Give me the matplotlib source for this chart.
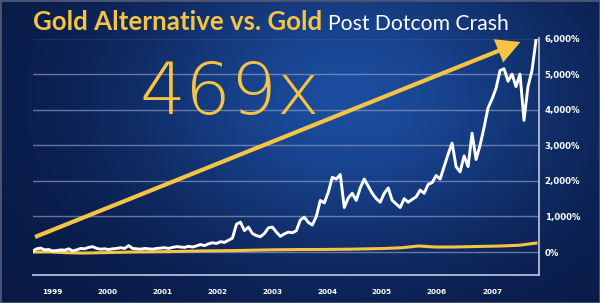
import numpy as np
import matplotlib
matplotlib.use("Agg")
import matplotlib.pyplot as plt
from matplotlib.patches import FancyArrowPatch, Rectangle
from matplotlib import font_manager as fm

# ---------------- data ----------------
title_main = "Gold Alternative vs. Gold"
title_sub = "Post Dotcom Crash"
big_label = "469x"
year_labels = ["1999", "2000", "2001", "2002", "2003", "2004", "2005", "2006", "2007"]
year_ticks = [1999, 2000, 2001, 2002, 2003, 2004, 2005, 2006, 2007]
y_ticks = [0, 1000, 2000, 3000, 4000, 5000, 6000]
y_tick_labels = ["0%", "1,000%", "2,000%", "3,000%", "4,000%", "5,000%", "6,000%"]

start_year = 1998.65
end_year = 2007.80

# Gold alternative cumulative return (%), evenly spaced in time
alt_values = [30, 90, 110, 60, 70, 30, 40, 60, 50, 90,
              30, 60, 100, 90, 130, 150, 100, 80, 90, 70,
              90, 100, 120, 100, 180, 100, 90, 80, 100, 90,
              80, 100, 110, 120, 100, 130, 150, 140, 130, 160,
              140, 170, 210, 180, 230, 260, 240, 290, 270, 330,
              390, 780, 840, 600, 700, 520, 460, 430, 520, 680,
              700, 560, 440, 510, 560, 540, 600, 900, 980, 830,
              760, 1000, 1450, 1380, 1680, 2100, 2050, 2180, 1250, 1520,
              1650, 1450, 1800, 2050, 1850, 1650, 1500, 1400, 1650, 1800,
              1450, 1350, 1250, 1500, 1400, 1480, 1550, 1740, 1650, 1900,
              1950, 2150, 2050, 2400, 2750, 3060, 2400, 2250, 2700, 2400,
              3340, 2600, 3000, 3500, 4050, 4300, 4600, 5100, 5150, 4800,
              5000, 4650, 5000, 3700, 4650, 5100, 5950]

# Gold cumulative return (%), evenly spaced in time
gold_values = [0, 5, -20, -30, -20, -10, 0, 5, 10, 20,
               30, 35, 40, 50, 60, 65, 70, 70, 75, 80,
               90, 100, 120, 170, 140, 140, 150, 160, 170, 190, 250]

alt_dates = np.linspace(start_year, end_year, len(alt_values))
gold_dates = np.linspace(start_year, end_year, len(gold_values))

# ---------------- style ----------------
YELLOW = "#f6c443"
WHITE = "#ffffff"
GRID = "#8d98c4"
AXIS = "#b4bdd8"

W, H = 600, 303
fig = plt.figure(figsize=(6.0, 3.03), dpi=100)

# background gradient
bg = fig.add_axes([0, 0, 1, 1])
bg.set_axis_off()
xx, yy = np.meshgrid(np.linspace(0, 1, W), np.linspace(0, 1, H))
dark = np.array([0.035, 0.10, 0.27])
light = np.array([0.11, 0.30, 0.62])
w = np.exp(-(((xx - 0.58) ** 2) / 0.13 + ((yy - 0.33) ** 2) / 0.26))
w = np.clip(w, 0, 1)
img = dark[None, None, :] * (1 - w[..., None]) + light[None, None, :] * w[..., None]
bg.imshow(img, extent=[0, 1, 0, 1], aspect="auto", origin="upper")
bg.set_xlim(0, 1)
bg.set_ylim(0, 1)
bg.add_patch(Rectangle((0, 0), 1, 1, transform=fig.transFigure, fill=False,
                       edgecolor="#4b5675", lw=2.0))

# main axes
left = 32.6 / W
right = 539 / W
bottom = 1 - 275 / H
top = 1 - 38.5 / H
ax = fig.add_axes([left, bottom, right - left, top - bottom])
ax.patch.set_alpha(0)

ax.plot(gold_dates, gold_values, color=YELLOW, lw=2.2, solid_joinstyle="round", zorder=3)
ax.plot(alt_dates, alt_values, color=WHITE, lw=2.1, solid_joinstyle="round", zorder=4)

ax.set_xlim(1998.647, 2007.855)
ax.set_ylim(-646, 6000)

ax.set_yticks(y_ticks)
ax.set_yticklabels(y_tick_labels)
ax.set_xticks(year_ticks)
ax.set_xticklabels(year_labels)
ax.yaxis.tick_right()
ax.tick_params(axis="y", length=0, pad=4, labelsize=6.2, labelcolor=WHITE)
ax.tick_params(axis="x", length=0, pad=10, labelsize=5.2, labelcolor=WHITE)
for lab in ax.get_yticklabels() + ax.get_xticklabels():
    lab.set_fontweight("bold")
    lab.set_family("DejaVu Sans")

ax.grid(axis="y", color=GRID, lw=1.0, alpha=0.7)
ax.grid(axis="x", visible=False)
ax.set_axisbelow(True)
for s in ["top", "left"]:
    ax.spines[s].set_visible(False)
for s in ["bottom", "right"]:
    ax.spines[s].set_color(AXIS)
    ax.spines[s].set_linewidth(1.3)

# arrow (figure fraction coords)
arrow = FancyArrowPatch((32.5 / W, 1 - 238 / H), (523 / W, 1 - 41 / H),
                        transform=fig.transFigure,
                        arrowstyle="simple,head_length=1.7,head_width=1.8,tail_width=0.30",
                        mutation_scale=10, color=YELLOW, lw=0, zorder=5)
fig.patches.append(arrow)

# big label: prefer a light DejaVu face if present
light_fonts = [f for f in fm.fontManager.ttflist
               if f.name == "DejaVu Sans" and f.weight in (200, 300, "light", "extra-light")]
big_weight = "light" if light_fonts else "normal"
fig.text(139 / W, 1 - 114 / H, big_label, color=YELLOW, fontsize=52,
         family="DejaVu Sans", fontweight=big_weight, ha="left", va="baseline")

# title
fig.text(32.6 / W, 1 - 30 / H, title_main, color=YELLOW, fontsize=18.6,
         fontweight="bold", family="Lato", ha="left", va="baseline")
fig.text(328 / W, 1 - 30 / H, title_sub, color=WHITE, fontsize=15.2,
         family="Lato", ha="left", va="baseline")

fig.savefig("out.png", dpi=100)
